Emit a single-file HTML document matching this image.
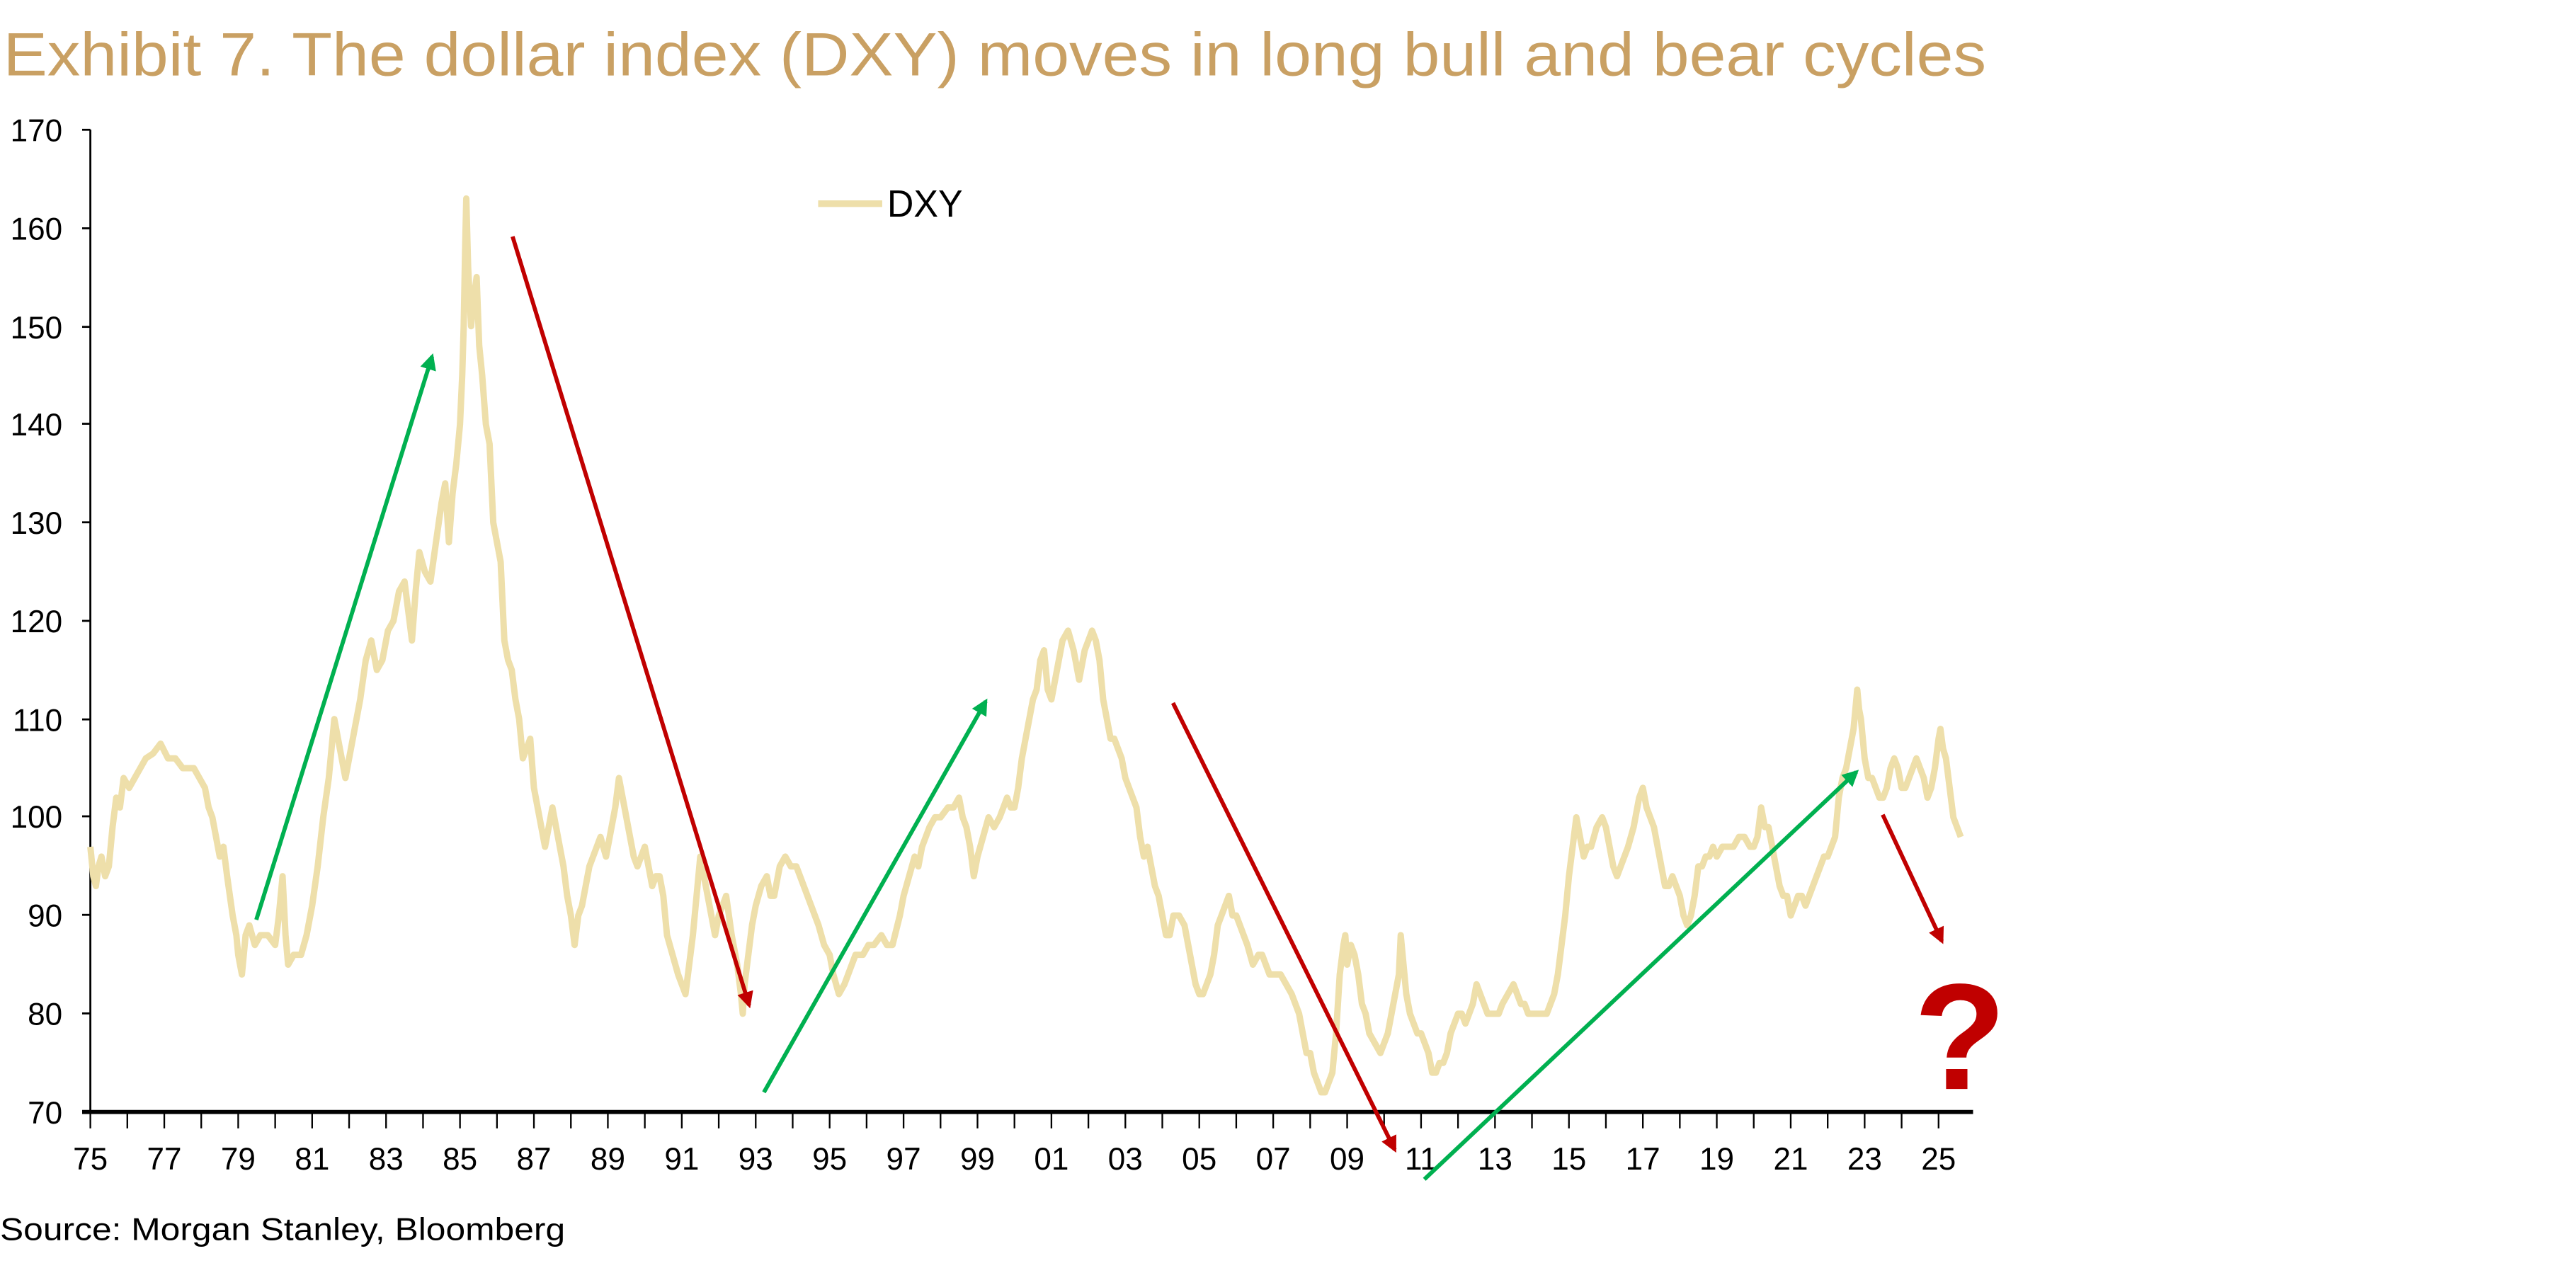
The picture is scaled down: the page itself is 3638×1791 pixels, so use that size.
<!DOCTYPE html>
<html><head><meta charset="utf-8"><style>
html,body{margin:0;padding:0;background:#fff;}
svg{display:block;}
text{font-family:"Liberation Sans",sans-serif;}
</style></head><body>
<svg width="3638" height="1791" viewBox="0 0 1568 772" preserveAspectRatio="none" xmlns="http://www.w3.org/2000/svg">
<defs>
<marker id="ag" viewBox="0 0 10 10" refX="8" refY="5" markerWidth="4" markerHeight="4" orient="auto"><path d="M0,0 L10,5 L0,10 z" fill="#00B050"/></marker>
<marker id="ar" viewBox="0 0 10 10" refX="8" refY="5" markerWidth="4" markerHeight="4" orient="auto"><path d="M0,0 L10,5 L0,10 z" fill="#C00000"/></marker>
</defs>
<text x="2" y="46" font-size="37" fill="#C9A063" textLength="1207" lengthAdjust="spacingAndGlyphs">Exhibit 7. The dollar index (DXY) moves in long bull and bear cycles</text>
<g font-size="19" fill="#000" text-anchor="end">
<text x="38" y="86">170</text><text x="38" y="146">160</text><text x="38" y="206">150</text><text x="38" y="265">140</text><text x="38" y="325">130</text><text x="38" y="385">120</text><text x="38" y="445">110</text><text x="38" y="504">100</text><text x="38" y="564">90</text><text x="38" y="624">80</text><text x="38" y="684">70</text>
</g>
<g stroke="#000" stroke-width="1.2">
<line x1="55" y1="79" x2="55" y2="677"/>
<line x1="50" y1="79" x2="55" y2="79"/><line x1="50" y1="139" x2="55" y2="139"/><line x1="50" y1="199" x2="55" y2="199"/><line x1="50" y1="258" x2="55" y2="258"/><line x1="50" y1="318" x2="55" y2="318"/><line x1="50" y1="378" x2="55" y2="378"/><line x1="50" y1="438" x2="55" y2="438"/><line x1="50" y1="497" x2="55" y2="497"/><line x1="50" y1="557" x2="55" y2="557"/><line x1="50" y1="617" x2="55" y2="617"/>
</g>
<g stroke="#000" stroke-width="1">
<path d="M55,677v10M77.5,677v10M100,677v10M122.5,677v10M145,677v10M167.5,677v10M190,677v10M212.5,677v10M235,677v10M257.5,677v10M280,677v10M302.5,677v10M325,677v10M347.5,677v10M370,677v10M392.5,677v10M415,677v10M437.5,677v10M460,677v10M482.5,677v10M505,677v10M527.5,677v10M550,677v10M572.5,677v10M595,677v10M617.5,677v10M640,677v10M662.5,677v10M685,677v10M707.5,677v10M730,677v10M752.5,677v10M775,677v10M797.5,677v10M820,677v10M842.5,677v10M865,677v10M887.5,677v10M910,677v10M932.5,677v10M955,677v10M977.5,677v10M1000,677v10M1022.5,677v10M1045,677v10M1067.5,677v10M1090,677v10M1112.5,677v10M1135,677v10M1157.5,677v10M1180,677v10"/>
</g>
<g font-size="19" fill="#000" text-anchor="middle">
<text x="55" y="712">75</text><text x="100" y="712">77</text><text x="145" y="712">79</text><text x="190" y="712">81</text><text x="235" y="712">83</text><text x="280" y="712">85</text><text x="325" y="712">87</text><text x="370" y="712">89</text><text x="415" y="712">91</text><text x="460" y="712">93</text><text x="505" y="712">95</text><text x="550" y="712">97</text><text x="595" y="712">99</text><text x="640" y="712">01</text><text x="685" y="712">03</text><text x="730" y="712">05</text><text x="775" y="712">07</text><text x="820" y="712">09</text><text x="865" y="712">11</text><text x="910" y="712">13</text><text x="955" y="712">15</text><text x="1000" y="712">17</text><text x="1045" y="712">19</text><text x="1090" y="712">21</text><text x="1135" y="712">23</text><text x="1180" y="712">25</text>
</g>
<g transform="matrix(22.5 0 0 -5.98 55 1095.6)">
<polyline fill="none" stroke="#EEDFAA" stroke-width="9" vector-effect="non-scaling-stroke" stroke-linejoin="round" points="0,97 0.08,94 0.15,93 0.22,95 0.3,96 0.4,94 0.5,95 0.6,99 0.7,102 0.8,101 0.9,104 1.05,103 1.2,104 1.35,105 1.5,106 1.7,106.5 1.9,107.5 2.1,106 2.3,106 2.5,105 2.8,105 2.95,104 3.1,103 3.2,101 3.3,100 3.4,98 3.5,96 3.6,97 3.7,94 3.85,90 3.95,88 4.0,86 4.1,84 4.2,88 4.3,89 4.45,87 4.6,88 4.8,88 5.0,87 5.1,90 5.2,94 5.28,88 5.35,85 5.5,86 5.7,86 5.85,88 6.0,91 6.15,95 6.3,100 6.45,104 6.6,110 6.75,107 6.9,104 7.1,108 7.3,112 7.45,116 7.6,118 7.75,115 7.9,116 8.05,119 8.2,120 8.35,123 8.5,124 8.6,121 8.7,118 8.8,123 8.9,127 9.05,125 9.2,124 9.35,128 9.5,132 9.6,134 9.7,128 9.8,133 9.9,136 10.0,140 10.06,145 10.1,150 10.14,158 10.17,163 10.22,156 10.3,150 10.38,153 10.45,155 10.52,148 10.6,145 10.7,140 10.8,138 10.9,130 11.0,128 11.1,126 11.2,118 11.3,116 11.4,115 11.5,112 11.6,110 11.7,106 11.8,107 11.9,108 12.0,103 12.1,101 12.2,99 12.3,97 12.4,99 12.5,101 12.6,99 12.7,97 12.8,95 12.9,92 13.0,90 13.1,87 13.2,90 13.3,91 13.4,93 13.5,95 13.6,96 13.7,97 13.8,98 13.95,96 14.1,99 14.2,101 14.3,104 14.4,102 14.5,100 14.6,98 14.7,96 14.8,95 14.9,96 15.0,97 15.1,95 15.2,93 15.3,94 15.4,94 15.5,92 15.6,88 15.75,86 15.9,84 16.0,83 16.1,82 16.2,85 16.3,88 16.4,92 16.5,96 16.6,94 16.7,92 16.8,90 16.9,88 17.0,90 17.2,92 17.35,88 17.5,85 17.6,82 17.65,80 17.7,83 17.8,86 17.9,89 18.0,91 18.15,93 18.3,94 18.4,92 18.5,92 18.65,95 18.8,96 18.95,95 19.1,95 19.3,93 19.5,91 19.7,89 19.85,87 20.0,86 20.1,84 20.25,82 20.4,83 20.5,84 20.7,86 20.9,86 21.05,87 21.2,87 21.4,88 21.55,87 21.7,87 21.9,90 22.0,92 22.15,94 22.3,96 22.4,95 22.5,97 22.7,99 22.85,100 23.0,100 23.2,101 23.35,101 23.5,102 23.6,100 23.7,99 23.8,97 23.9,94 24.0,96 24.15,98 24.3,100 24.45,99 24.6,100 24.7,101 24.8,102 24.9,101 25.0,101 25.1,103 25.2,106 25.3,108 25.4,110 25.5,112 25.6,113 25.7,116 25.8,117 25.9,113 26.0,112 26.1,114 26.2,116 26.3,118 26.45,119 26.6,117 26.75,114 26.9,117 27.0,118 27.1,119 27.2,118 27.3,116 27.4,112 27.5,110 27.6,108 27.7,108 27.8,107 27.9,106 28.0,104 28.1,103 28.2,102 28.3,101 28.4,98 28.5,96 28.6,97 28.7,95 28.8,93 28.9,92 29.0,90 29.1,88 29.2,88 29.3,90 29.45,90 29.6,89 29.7,87 29.8,85 29.9,83 30.0,82 30.1,82 30.2,83 30.3,84 30.4,86 30.5,89 30.6,90 30.7,91 30.8,92 30.9,90 31.0,90 31.1,89 31.2,88 31.3,87 31.45,85 31.6,86 31.7,86 31.8,85 31.9,84 32.0,84 32.2,84 32.35,83 32.5,82 32.6,81 32.7,80 32.8,78 32.9,76 33.0,76 33.1,74 33.2,73 33.3,72 33.4,72 33.5,73 33.6,74 33.7,78 33.8,84 33.9,87 33.95,88 34.0,85 34.1,87 34.2,86 34.3,84 34.4,81 34.5,80 34.6,78 34.75,77 34.9,76 35.0,77 35.1,78 35.2,80 35.3,82 35.4,84 35.45,88 35.5,86 35.6,82 35.7,80 35.8,79 35.9,78 36.0,78 36.1,77 36.2,76 36.3,74 36.4,74 36.5,75 36.6,75 36.7,76 36.8,78 36.9,79 37.0,80 37.1,80 37.2,79 37.3,80 37.4,81 37.5,83 37.6,82 37.7,81 37.8,80 37.9,80 38.0,80 38.1,80 38.2,81 38.35,82 38.5,83 38.6,82 38.7,81 38.8,81 38.9,80 39.0,80 39.2,80 39.3,80 39.4,80 39.5,81 39.6,82 39.7,84 39.8,87 39.9,90 40.0,94 40.1,97 40.2,100 40.3,98 40.4,96 40.5,97 40.6,97 40.75,99 40.9,100 41.0,99 41.1,97 41.2,95 41.3,94 41.4,95 41.5,96 41.6,97 41.75,99 41.9,102 42.0,103 42.1,101 42.2,100 42.3,99 42.4,97 42.5,95 42.6,93 42.7,93 42.8,94 42.9,93 43.0,92 43.1,90 43.2,89 43.3,90 43.4,92 43.5,95 43.6,95 43.7,96 43.8,96 43.9,97 44.0,96 44.15,97 44.3,97 44.45,97 44.6,98 44.75,98 44.9,97 45.0,97 45.1,98 45.2,101 45.3,99 45.4,99 45.5,97 45.6,95 45.7,93 45.8,92 45.9,92 46.0,90 46.1,91 46.2,92 46.3,92 46.4,91 46.5,92 46.6,93 46.7,94 46.8,95 46.9,96 47.0,96 47.1,97 47.2,98 47.3,102 47.4,104 47.5,105 47.6,107 47.7,109 47.75,111 47.8,113 47.85,111 47.9,110 48.0,106 48.1,104 48.2,104 48.3,103 48.4,102 48.5,102 48.6,103 48.7,105 48.8,106 48.9,105 49.0,103 49.1,103 49.2,104 49.3,105 49.4,106 49.5,105 49.6,104 49.7,102 49.8,103 49.9,105 50.0,108 50.05,109 50.12,107 50.2,106 50.3,103 50.4,100 50.5,99 50.6,98"/>
</g>
<line x1="50" y1="677" x2="1201" y2="677" stroke="#000" stroke-width="2.5"/>
<line x1="498" y1="124" x2="537" y2="124" stroke="#EEDFAA" stroke-width="4"/>
<text x="540" y="132" font-size="23" fill="#000" textLength="46" lengthAdjust="spacingAndGlyphs">DXY</text>
<g stroke-width="2.5" fill="none">
<line x1="156" y1="560" x2="263" y2="217" stroke="#00B050" marker-end="url(#ag)"/>
<line x1="312" y1="144" x2="456" y2="612" stroke="#C00000" marker-end="url(#ar)"/>
<line x1="465" y1="665" x2="600" y2="427" stroke="#00B050" marker-end="url(#ag)"/>
<line x1="714" y1="428" x2="849" y2="700" stroke="#C00000" marker-end="url(#ar)"/>
<line x1="867" y1="718" x2="1130" y2="470" stroke="#00B050" marker-end="url(#ag)"/>
<line x1="1146" y1="496" x2="1182" y2="573" stroke="#C00000" marker-end="url(#ar)"/>
</g>
<text x="1193" y="663" font-size="92" font-weight="bold" fill="#C00000" text-anchor="middle">?</text>
<text x="0" y="755" font-size="19" fill="#000" textLength="344" lengthAdjust="spacingAndGlyphs">Source: Morgan Stanley, Bloomberg</text>
</svg>
</body></html>
